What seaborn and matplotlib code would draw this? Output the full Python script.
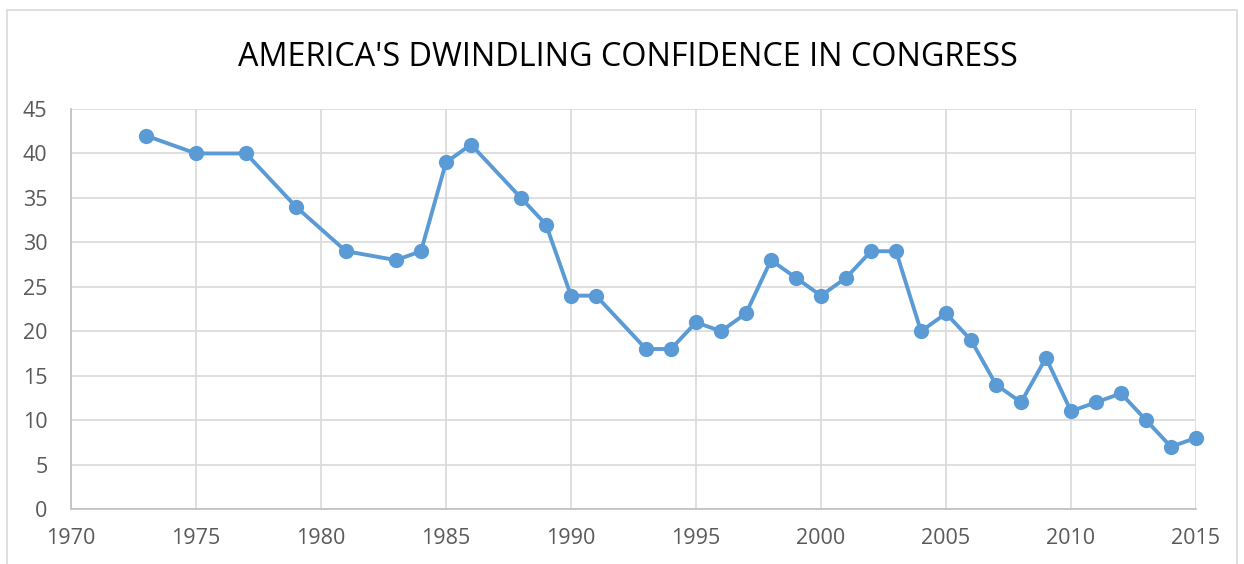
import matplotlib
matplotlib.use("Agg")
import matplotlib.pyplot as plt
import seaborn as sns
import pandas as pd
from matplotlib.patches import Rectangle

years = [1973, 1975, 1977, 1979, 1981, 1983, 1984, 1985, 1986, 1988, 1989, 1990,
         1991, 1993, 1994, 1995, 1996, 1997, 1998, 1999, 2000, 2001, 2002, 2003,
         2004, 2005, 2006, 2007, 2008, 2009, 2010, 2011, 2012, 2013, 2014, 2015]
confidence = [42, 40, 40, 34, 29, 28, 29, 39, 41, 35, 32, 24,
              24, 18, 18, 21, 20, 22, 28, 26, 24, 26, 29, 29,
              20, 22, 19, 14, 12, 17, 11, 12, 13, 10, 7, 8]
x_ticks = [1970, 1975, 1980, 1985, 1990, 1995, 2000, 2005, 2010, 2015]
y_ticks = [0, 5, 10, 15, 20, 25, 30, 35, 40, 45]
title = "AMERICA'S DWINDLING CONFIDENCE IN CONGRESS"

df = pd.DataFrame({"year": years, "confidence": confidence})

sns.set_theme(style="white")
plt.rcParams['font.family'] = ['Open Sans', 'DejaVu Sans']

fig = plt.figure(figsize=(12.44, 5.64), dpi=100)
ax = fig.add_axes([71/1244, 1-509/564, (1196-71)/1244, (509-109)/564])

sns.lineplot(data=df, x="year", y="confidence", ax=ax, color="#5B9BD5",
             linewidth=2.8, marker="o", markersize=11, markeredgewidth=0,
             zorder=3, clip_on=False)

ax.set_xlim(1970, 2015)
ax.set_ylim(0, 45)
ax.set_xticks(x_ticks)
ax.set_yticks(y_ticks)
ax.grid(True, color="#D9D9D9", linewidth=1.2)
ax.set_axisbelow(True)
ax.set_xlabel("")
ax.set_ylabel("")
for s in ["top", "right"]:
    ax.spines[s].set_visible(False)
for s in ["left", "bottom"]:
    ax.spines[s].set_color("#BFBFBF")
    ax.spines[s].set_linewidth(1.2)
ax.tick_params(axis="both", labelsize=15.5, colors="#595959", length=0)
ax.tick_params(axis="x", pad=14)
ax.tick_params(axis="y", pad=17)

fig.text(628/1244, 1-58/564, title, ha="center", va="center",
         fontsize=23.3, color="#000000")

fig.patches.append(Rectangle((7/1244, -0.01), (1237-7)/1244, 1-10/564+0.01,
                             transform=fig.transFigure, fill=False,
                             edgecolor="#D9D9D9", linewidth=1.2))

fig.savefig("out.png", dpi=100)
